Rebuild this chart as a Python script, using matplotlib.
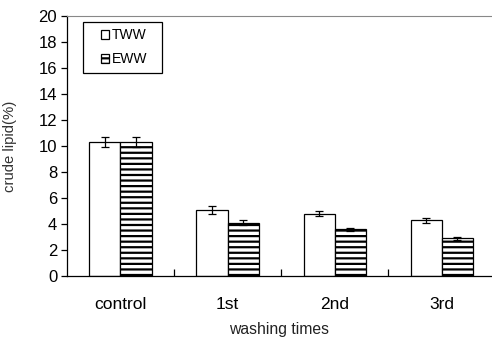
import matplotlib
matplotlib.use('Agg')
import matplotlib.pyplot as plt
from matplotlib.patches import Rectangle
import numpy as np

categories = ['control', '1st', '2nd', '3rd']
tww = [10.3, 5.1, 4.8, 4.3]
tww_err = [0.4, 0.3, 0.2, 0.2]
eww = [10.3, 4.1, 3.6, 2.9]
eww_err = [0.4, 0.2, 0.1, 0.1]

plt.rcParams['font.family'] = ['Liberation Sans', 'DejaVu Sans']
plt.rcParams['hatch.linewidth'] = 1.6

fig = plt.figure(figsize=(4.92, 3.4), dpi=100)
ax = fig.add_axes([0.136, 0.188, 0.864, 0.765])

x = np.arange(len(categories))
w = 0.29
ax.bar(x - w / 2, tww, w, color='white', edgecolor='black', linewidth=0.9,
       yerr=tww_err, capsize=3, error_kw=dict(elinewidth=0.9, capthick=0.9), label='TWW')
ax.bar(x + w / 2, eww, w, color='white', edgecolor='black', linewidth=0.9, hatch='---',
       yerr=eww_err, capsize=3, error_kw=dict(elinewidth=0.9, capthick=0.9), label='EWW')

ax.set_xlim(-0.5, 3.47)
ax.set_ylim(0, 20)
ax.set_yticks(range(0, 21, 2))
ax.tick_params(axis='y', labelsize=12, length=4, width=0.9, direction='out', pad=3)
ax.set_xticks(x)
ax.set_xticklabels(categories)
ax.tick_params(axis='x', which='major', length=0, labelsize=12.5, pad=15)
ax.set_xticks([0.5, 1.5, 2.5], minor=True)
ax.tick_params(axis='x', which='minor', length=5, direction='in', width=0.9)

ax.spines['right'].set_visible(False)
ax.spines['top'].set_color('#888888')
ax.spines['top'].set_linewidth(0.8)
ax.spines['left'].set_linewidth(0.9)
ax.spines['bottom'].set_linewidth(0.9)

ax.set_ylabel('crude lipid(%)', fontsize=10.7, color='#333333')
ax.yaxis.set_label_coords(-0.117, 0.5)
ax.set_xlabel('washing times', fontsize=11.3, color='#222222', labelpad=7)

# legend box
ax.add_patch(Rectangle((83 / 492, 1 - 73 / 340), 79 / 492, 51 / 340,
                       transform=fig.transFigure, facecolor='white', clip_on=False,
                       edgecolor='black', linewidth=0.9, zorder=5))
leg = ax.legend(loc='upper left', bbox_to_anchor=(101 / 492, 1 - 28 / 340),
                bbox_transform=fig.transFigure, frameon=False, fontsize=10,
                handlelength=0.6, handleheight=0.6, handletextpad=0.15,
                borderpad=0, labelspacing=0.75, borderaxespad=0)
leg.set_zorder(6)

fig.savefig('out.png', dpi=100)
